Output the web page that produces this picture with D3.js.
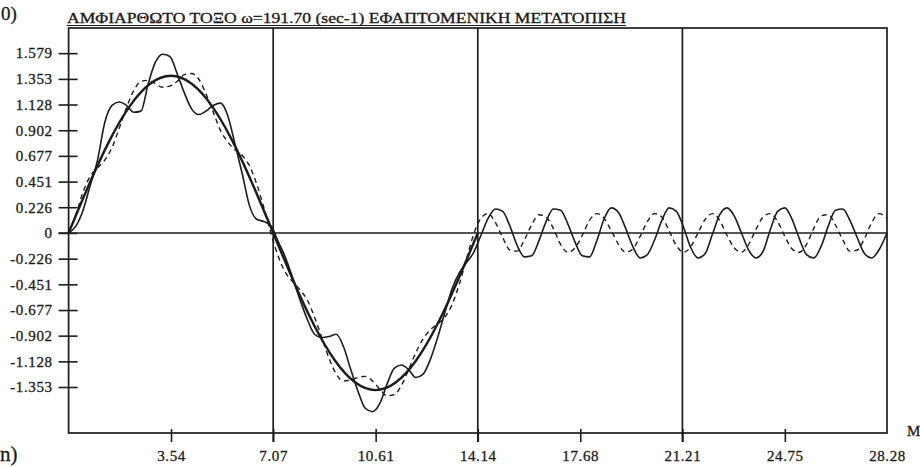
<!DOCTYPE html>
<html>
<head>
<meta charset="utf-8">
<script src="https://cdn.jsdelivr.net/npm/d3@7"></script>
<style>
  html, body { margin: 0; padding: 0; background: #ffffff; }
  svg { display: block; }
  text { font-family: "Liberation Serif", "DejaVu Serif", serif; fill: #1a1a1a; stroke: #1a1a1a; stroke-width: 0.3px; }
</style>
</head>
<body>
<svg id="chart" width="920" height="467"></svg>
<script>
// ---------- data ----------
const titleText = "ΑΜΦΙΑΡΘΩΤΟ ΤΟΞΟ ω=191.70 (sec-1) ΕΦΑΠΤΟΜΕΝΙΚΗ ΜΕΤΑΤΟΠΙΣΗ";
const xAxisName = "M";
const xTicks = [3.54, 7.07, 10.61, 14.14, 17.68, 21.21, 24.75, 28.28];
const xTickLabels = ["3.54", "7.07", "10.61", "14.14", "17.68", "21.21", "24.75", "28.28"];
const gridX = [7.07, 14.14, 21.21];
const yTicks = [1.579, 1.353, 1.128, 0.902, 0.677, 0.451, 0.226, 0, -0.226, -0.451, -0.677, -0.902, -1.128, -1.353];
const yTickLabels = ["1.579", "1.353", "1.128", "0.902", "0.677", "0.451", "0.226", "0", "-0.226", "-0.451", "-0.677", "-0.902", "-1.128", "-1.353"];

// sample positions for the two response curves
const sampleX = [
  0, 0.25, 0.5, 0.75, 1, 1.25, 1.5, 1.75, 2, 2.25, 2.5, 2.75, 3, 3.25, 3.5, 3.75,
  4, 4.25, 4.5, 4.75, 5, 5.25, 5.5, 5.75, 6, 6.25, 6.5, 6.75, 7, 7.25, 7.5, 7.75,
  8, 8.25, 8.5, 8.75, 9, 9.25, 9.5, 9.75, 10, 10.25, 10.5, 10.75, 11, 11.25, 11.5, 11.75,
  12, 12.25, 12.5, 12.75, 13, 13.25, 13.5, 13.75, 14, 14.25, 14.5, 14.75, 15, 15.25, 15.5, 15.75,
  16, 16.25, 16.5, 16.75, 17, 17.25, 17.5, 17.75, 18, 18.25, 18.5, 18.75, 19, 19.25, 19.5, 19.75,
  20, 20.25, 20.5, 20.75, 21, 21.25, 21.5, 21.75, 22, 22.25, 22.5, 22.75, 23, 23.25, 23.5, 23.75,
  24, 24.25, 24.5, 24.75, 25, 25.25, 25.5, 25.75, 26, 26.25, 26.5, 26.75, 27, 27.25, 27.5, 27.75,
  28, 28.28
];
// solid wavy response
const solidY = [
  0, 0.06, 0.20, 0.42, 0.64, 0.97, 1.12, 1.15, 1.12, 1.06, 1.07, 1.31, 1.50, 1.57, 1.55, 1.40,
  1.23, 1.09, 1.04, 1.07, 1.12, 1.14, 1.03, 0.78, 0.52, 0.24, 0.12, 0.10, 0.06, -0.08, -0.22, -0.40,
  -0.59, -0.76, -0.89, -0.92, -0.91, -0.89, -1.00, -1.20, -1.39, -1.54, -1.57, -1.50, -1.33, -1.19, -1.16, -1.20,
  -1.27, -1.24, -1.11, -0.92, -0.70, -0.49, -0.35, -0.26, -0.17, -0.02, 0.13, 0.21, 0.19, 0.06, -0.11, -0.21,
  -0.20, -0.07, 0.10, 0.21, 0.20, 0.08, -0.08, -0.20, -0.21, -0.07, 0.12, 0.22, 0.18, 0.04, -0.12, -0.22,
  -0.19, -0.06, 0.11, 0.22, 0.19, 0.05, -0.13, -0.22, -0.18, -0.01, 0.16, 0.22, 0.15, 0.00, -0.15, -0.22,
  -0.16, 0.03, 0.19, 0.22, 0.12, -0.05, -0.19, -0.22, -0.12, 0.06, 0.20, 0.21, 0.11, -0.04, -0.18, -0.22,
  -0.15, 0.00
];
// dashed response
const dashedY = [
  0, 0.16, 0.36, 0.50, 0.57, 0.64, 0.75, 0.92, 1.10, 1.25, 1.33, 1.34, 1.31, 1.28, 1.29, 1.33,
  1.39, 1.40, 1.35, 1.22, 1.06, 0.90, 0.80, 0.73, 0.68, 0.59, 0.43, 0.22, -0.01, -0.21, -0.35, -0.43,
  -0.50, -0.59, -0.74, -0.92, -1.10, -1.24, -1.30, -1.29, -1.27, -1.26, -1.30, -1.37, -1.43, -1.42, -1.34, -1.20,
  -1.05, -0.93, -0.85, -0.80, -0.74, -0.63, -0.45, -0.23, -0.01, 0.13, 0.17, 0.09, -0.04, -0.15, -0.16, -0.06,
  0.07, 0.16, 0.14, 0.04, -0.10, -0.17, -0.13, -0.02, 0.11, 0.17, 0.13, 0.02, -0.10, -0.17, -0.14, -0.03,
  0.10, 0.17, 0.14, 0.02, -0.11, -0.17, -0.12, 0.00, 0.12, 0.17, 0.11, -0.02, -0.13, -0.17, -0.10, 0.03,
  0.14, 0.17, 0.10, -0.03, -0.14, -0.17, -0.10, 0.04, 0.15, 0.16, 0.07, -0.06, -0.16, -0.15, -0.05, 0.09,
  0.17, 0.13
];
// smooth reference sine (first 14.14)
const smoothX = [0, 0.707, 1.414, 2.121, 2.828, 3.535, 4.242, 4.949, 5.656, 6.363, 7.07,
  7.777, 8.484, 9.191, 9.898, 10.605, 11.312, 12.019, 12.726, 13.433, 14.14];
const smoothY = [0, 0.426, 0.811, 1.116, 1.312, 1.38, 1.312, 1.116, 0.811, 0.426, 0,
  -0.426, -0.811, -1.116, -1.312, -1.38, -1.312, -1.116, -0.811, -0.426, 0];

// ---------- drawing ----------
(function () {
const svg = d3.select("#chart");
const ink = "#1c1c1c";
const pLeft = 68.6, pRight = 887, pTop = 28, pBottom = 433;

const x = d3.scaleLinear().domain([0, 28.28]).range([pLeft, pRight]);
const y = d3.scaleLinear().domain([-1.757, 1.80]).range([pBottom, pTop]);

svg.append("rect").attr("width", 920).attr("height", 467).attr("fill", "#ffffff");

// corner fragments of neighbouring panel labels
svg.append("text").attr("x", 1).attr("y", 20).attr("font-size", 19).text("0)");
svg.append("text").attr("x", 0).attr("y", 461).attr("font-size", 21).text("n)");

// title
svg.append("text")
  .attr("x", 67).attr("y", 22.5)
  .attr("font-size", 14)
  .attr("textLength", 559).attr("lengthAdjust", "spacingAndGlyphs")
  .text(titleText);
svg.append("line").attr("x1", 67).attr("x2", 626).attr("y1", 25.5).attr("y2", 25.5)
  .attr("stroke", ink).attr("stroke-width", 1);

// frame
svg.append("rect")
  .attr("x", pLeft).attr("y", pTop).attr("width", pRight - pLeft).attr("height", pBottom - pTop)
  .attr("fill", "none").attr("stroke", ink).attr("stroke-width", 1.7);

// vertical grid lines
svg.append("g").selectAll("line").data(gridX).join("line")
  .attr("x1", d => x(d)).attr("x2", d => x(d))
  .attr("y1", pTop).attr("y2", pBottom + 9)
  .attr("stroke", ink).attr("stroke-width", 1.7);

// zero line
svg.append("line")
  .attr("x1", pLeft - 10).attr("x2", pRight)
  .attr("y1", y(0)).attr("y2", y(0))
  .attr("stroke", ink).attr("stroke-width", 1.5);

// y axis
const yAxis = svg.append("g").attr("transform", `translate(${pLeft},0)`)
  .call(d3.axisLeft(y).tickValues(yTicks)
    .tickFormat((d, i) => yTickLabels[i])
    .tickSizeInner(10).tickSizeOuter(0).tickPadding(6));
yAxis.select(".domain").remove();
yAxis.selectAll(".tick line").attr("x1", 9).attr("x2", -10).attr("stroke", ink).attr("stroke-width", 1.6);
yAxis.selectAll(".tick text").attr("font-size", 15).attr("letter-spacing", 0.6)
  .attr("font-family", "Liberation Serif").attr("fill", ink);

// x axis
const xAxis = svg.append("g").attr("transform", `translate(0,${pBottom})`)
  .call(d3.axisBottom(x).tickValues(xTicks)
    .tickFormat((d, i) => xTickLabels[i])
    .tickSizeInner(9).tickSizeOuter(0).tickPadding(8));
xAxis.select(".domain").remove();
xAxis.selectAll(".tick line").attr("y1", -4).attr("y2", 9).attr("stroke", ink).attr("stroke-width", 1.6)
  .filter(d => d === 28.28).remove();
xAxis.selectAll(".tick text").attr("font-size", 15).attr("letter-spacing", 0.6)
  .attr("font-family", "Liberation Serif").attr("fill", ink);

svg.append("text").attr("x", 907).attr("y", 436).attr("font-size", 15).text(xAxisName);

// curves
svg.append("path")
  .datum(smoothX.map((v, i) => [v, smoothY[i]]))
  .attr("d", d3.line().x(d => x(d[0])).y(d => y(d[1])).curve(d3.curveNatural))
  .attr("fill", "none").attr("stroke", ink).attr("stroke-width", 2.4);

svg.append("path")
  .datum(sampleX.map((v, i) => [v, dashedY[i]]))
  .attr("d", d3.line().x(d => x(d[0])).y(d => y(d[1])).curve(d3.curveMonotoneX))
  .attr("fill", "none").attr("stroke", ink).attr("stroke-width", 1.4)
  .attr("stroke-dasharray", "5,4");

svg.append("path")
  .datum(sampleX.map((v, i) => [v, solidY[i]]))
  .attr("d", d3.line().x(d => x(d[0])).y(d => y(d[1])).curve(d3.curveMonotoneX))
  .attr("fill", "none").attr("stroke", ink).attr("stroke-width", 1.6);
})();
</script>
</body>
</html>
